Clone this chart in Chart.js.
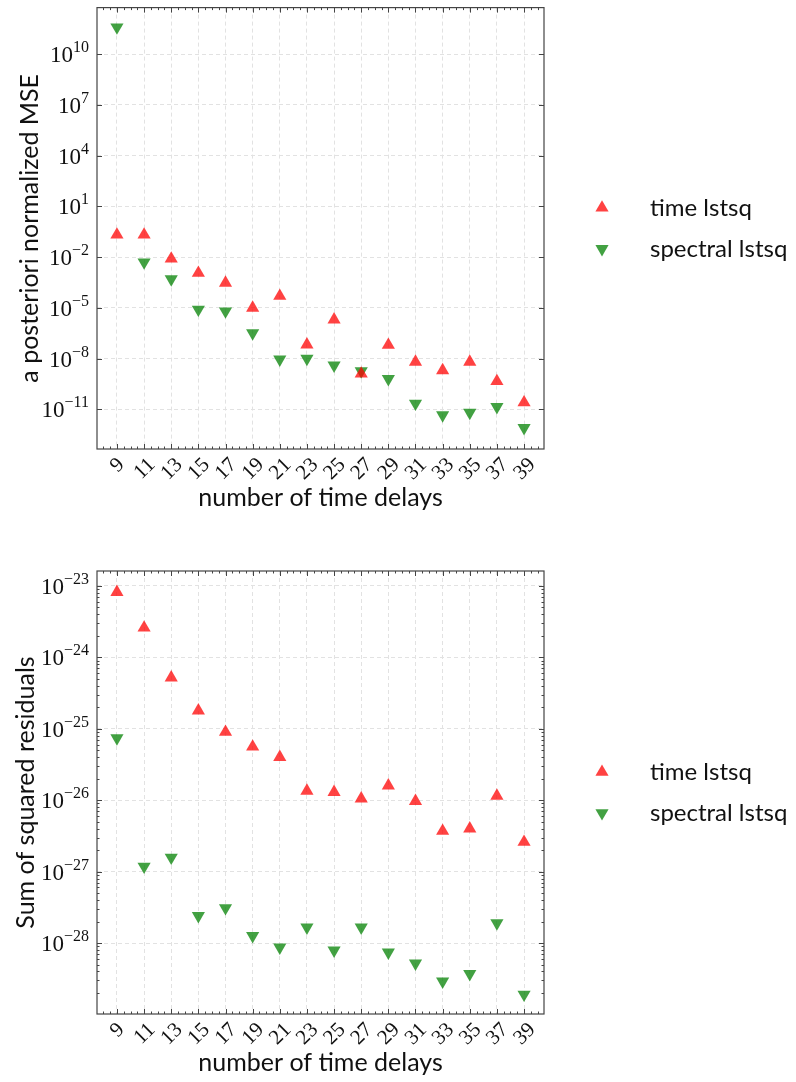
<!DOCTYPE html>
<html>
<head>
<meta charset="utf-8">
<script src="https://cdn.jsdelivr.net/npm/chart.js@4.4.0/dist/chart.umd.min.js"></script>
<style>
  body { margin: 0; background: #fff; }
  canvas { display: block; }
</style>
</head>
<body>
<canvas id="mse" width="796" height="541"></canvas>
<canvas id="res" width="796" height="541"></canvas>
<script>
// number of time delays (x categories)
var delays = [9, 11, 13, 15, 17, 19, 21, 23, 25, 27, 29, 31, 33, 35, 37, 39];

// top panel: a posteriori normalized MSE
var mseTime     = [2.1e-1, 2.1e-1, 8e-3, 1.15e-3, 3e-4, 1e-5, 5e-5, 6.6e-8, 2e-6, 1.26e-9, 6.3e-8, 6.3e-9, 2e-9, 6.3e-9, 4.5e-10, 2.5e-11];
var mseSpectral = [4e11, 5e-3, 5e-4, 8e-6, 6.3e-6, 3.2e-7, 9e-9, 1e-8, 4e-9, 1.8e-9, 6.3e-10, 2.2e-11, 4.5e-12, 6.3e-12, 1.4e-11, 8e-13];

// bottom panel: sum of squared residuals
var resTime     = [8.2e-24, 2.6e-24, 5.2e-25, 1.8e-25, 9e-26, 5.6e-26, 4e-26, 1.35e-26, 1.3e-26, 1.05e-26, 1.6e-26, 9.7e-27, 3.7e-27, 4e-27, 1.15e-26, 2.6e-27];
var resSpectral = [7.4e-26, 1.18e-27, 1.58e-27, 2.4e-28, 3.1e-28, 1.26e-28, 8.7e-29, 1.66e-28, 7.9e-29, 1.66e-28, 7.4e-29, 5.2e-29, 2.9e-29, 3.7e-29, 1.9e-28, 1.9e-29];

// y tick exponents
var mseTickExps = [-11, -8, -5, -2, 1, 4, 7, 10];
var resTickExps = [-28, -27, -26, -25, -24, -23];

var seriesNames = ['time lstsq', 'spectral lstsq'];
var RED = 'rgba(255, 0, 0, 0.74)';
var GREEN = 'rgba(0, 128, 0, 0.74)';

var SERIF = '"Liberation Serif", "DejaVu Serif", serif';
var SANS = 'Lato, "Noto Sans", sans-serif';
var MARK = 7.6;

function supStr(e) {
  return (e < 0 ? '\u2212' : '') + Math.abs(e);
}

function tri(ctx, x, y, r, down) {
  var s = down ? -1 : 1;
  ctx.beginPath();
  ctx.moveTo(x, y - s * r);
  ctx.lineTo(x + r * 0.866, y + s * r * 0.5);
  ctx.lineTo(x - r * 0.866, y + s * r * 0.5);
  ctx.closePath();
  ctx.fill();
}

// matplotlib-like frame, inward ticks, labels and legend
var mplAxes = {
  id: 'mplAxes',
  afterDraw: function (chart, args, opts) {
    var ctx = chart.ctx, a = chart.chartArea;
    var xs = chart.scales.x, ys = chart.scales.y;
    ctx.save();

    ctx.strokeStyle = '#444';
    ctx.lineWidth = 1.2;
    ctx.strokeRect(a.left, a.top, a.right - a.left, a.bottom - a.top);

    // x ticks (minor every 0.5, major on the odd delays)
    ctx.lineWidth = 1;
    ctx.beginPath();
    for (var v = Math.ceil(xs.min * 2) / 2; v <= xs.max; v += 0.5) {
      var px = Math.round(xs.getPixelForValue(v)) + 0.5;
      var len = (delays.indexOf(v) >= 0) ? 5 : 2.5;
      ctx.moveTo(px, a.bottom); ctx.lineTo(px, a.bottom - len);
      ctx.moveTo(px, a.top); ctx.lineTo(px, a.top + len);
    }
    // y major ticks
    opts.exps.forEach(function (e) {
      var py = Math.round(ys.getPixelForValue(Math.pow(10, e))) + 0.5;
      ctx.moveTo(a.left, py); ctx.lineTo(a.left + 5, py);
      ctx.moveTo(a.right, py); ctx.lineTo(a.right - 5, py);
    });
    // y minor ticks
    if (opts.minor) {
      var lo = Math.floor(Math.log10(ys.min)), hi = Math.ceil(Math.log10(ys.max));
      for (var d = lo; d <= hi; d++) {
        for (var k = 2; k <= 9; k++) {
          var val = k * Math.pow(10, d);
          if (val < ys.min || val > ys.max) continue;
          var py2 = Math.round(ys.getPixelForValue(val)) + 0.5;
          ctx.moveTo(a.left, py2); ctx.lineTo(a.left + 2.5, py2);
          ctx.moveTo(a.right, py2); ctx.lineTo(a.right - 2.5, py2);
        }
      }
    }
    ctx.stroke();

    ctx.fillStyle = '#111';
    // y tick labels 10^e
    opts.exps.forEach(function (e) {
      var py = ys.getPixelForValue(Math.pow(10, e));
      ctx.font = '16px ' + SERIF;
      var es = supStr(e);
      var w2 = ctx.measureText(es).width;
      ctx.font = '23px ' + SERIF;
      var w1 = ctx.measureText('10').width;
      var xEnd = a.left - 8;
      ctx.textAlign = 'left';
      ctx.textBaseline = 'alphabetic';
      ctx.fillText('10', xEnd - w2 - w1, py + 8);
      ctx.font = '16px ' + SERIF;
      ctx.fillText(es, xEnd - w2, py - 2);
    });

    // x tick labels rotated 45 degrees, centred under the tick
    ctx.font = '21px ' + SERIF;
    ctx.textAlign = 'center';
    ctx.textBaseline = 'middle';
    delays.forEach(function (dv) {
      var s = String(dv);
      var w = ctx.measureText(s).width, h = 14;
      var half = (w + h) * 0.7071 / 2;
      ctx.save();
      ctx.translate(xs.getPixelForValue(dv), a.bottom + 7 + half);
      ctx.rotate(-Math.PI / 4);
      ctx.fillText(s, 0, 1);
      ctx.restore();
    });

    // axis titles
    ctx.font = '25px ' + SANS;
    ctx.textAlign = 'center';
    ctx.textBaseline = 'alphabetic';
    ctx.fillText(opts.xTitle, (a.left + a.right) / 2, a.bottom + 57);
    ctx.save();
    ctx.translate(opts.yTitleX, (a.top + a.bottom) / 2);
    ctx.rotate(-Math.PI / 2);
    ctx.fillText(opts.yTitle, 0, 0);
    ctx.restore();

    // legend on the right
    var cy = (a.top + a.bottom) / 2;
    chart.data.datasets.forEach(function (ds, i) {
      var ly = cy + (i === 0 ? -20.5 : 20.5);
      ctx.fillStyle = ds.backgroundColor;
      tri(ctx, 602, ly, MARK, ds.pointRotation === 180);
      ctx.fillStyle = '#111';
      ctx.font = '24px ' + SANS;
      ctx.textAlign = 'left';
      ctx.textBaseline = 'middle';
      ctx.fillText(ds.label, 650, ly);
    });

    ctx.restore();
  }
};

function makePanel(id, timeVals, specVals, yMinExp, yMaxExp, exps, minor, pad, yTitle, yTitleX) {
  var pts = function (vals) {
    return delays.map(function (d, i) { return { x: d, y: vals[i] }; });
  };
  return new Chart(document.getElementById(id), {
    type: 'scatter',
    data: {
      datasets: [
        {
          label: seriesNames[0],
          data: pts(timeVals),
          pointStyle: 'triangle',
          pointRotation: 0,
          pointRadius: MARK,
          pointHoverRadius: MARK,
          backgroundColor: RED,
          borderColor: RED,
          borderWidth: 0
        },
        {
          label: seriesNames[1],
          data: pts(specVals),
          pointStyle: 'triangle',
          pointRotation: 180,
          pointRadius: MARK,
          pointHoverRadius: MARK,
          backgroundColor: GREEN,
          borderColor: GREEN,
          borderWidth: 0
        }
      ]
    },
    options: {
      responsive: false,
      animation: false,
      events: [],
      layout: { padding: pad },
      plugins: {
        legend: { display: false },
        tooltip: { enabled: false },
        mplAxes: { exps: exps, minor: minor, xTitle: 'number of time delays', yTitle: yTitle, yTitleX: yTitleX }
      },
      scales: {
        x: {
          type: 'linear',
          min: 7.53,
          max: 40.47,
          afterBuildTicks: function (scale) {
            scale.ticks = delays.map(function (d) { return { value: d }; });
          },
          ticks: { display: false },
          grid: { color: '#e2e2e2', lineWidth: 1, drawTicks: false },
          border: { display: false, dash: [4, 3] }
        },
        y: {
          type: 'logarithmic',
          min: Math.pow(10, yMinExp),
          max: Math.pow(10, yMaxExp),
          afterBuildTicks: function (scale) {
            scale.ticks = exps.map(function (e) { return { value: Math.pow(10, e), major: true }; });
          },
          ticks: { display: false },
          grid: { color: '#e2e2e2', lineWidth: 1, drawTicks: false },
          border: { display: false, dash: [4, 3] }
        }
      }
    },
    plugins: [mplAxes]
  });
}

makePanel('mse', mseTime, mseSpectral, -13.35, 12.76, mseTickExps, false,
  { left: 97, top: 5, right: 252, bottom: 92 }, 'a posteriori normalized MSE', 38);
makePanel('res', resTime, resSpectral, -28.994, -22.79, resTickExps, true,
  { left: 97, top: 30, right: 252, bottom: 68 }, 'Sum of squared residuals', 34);
</script>
</body>
</html>
